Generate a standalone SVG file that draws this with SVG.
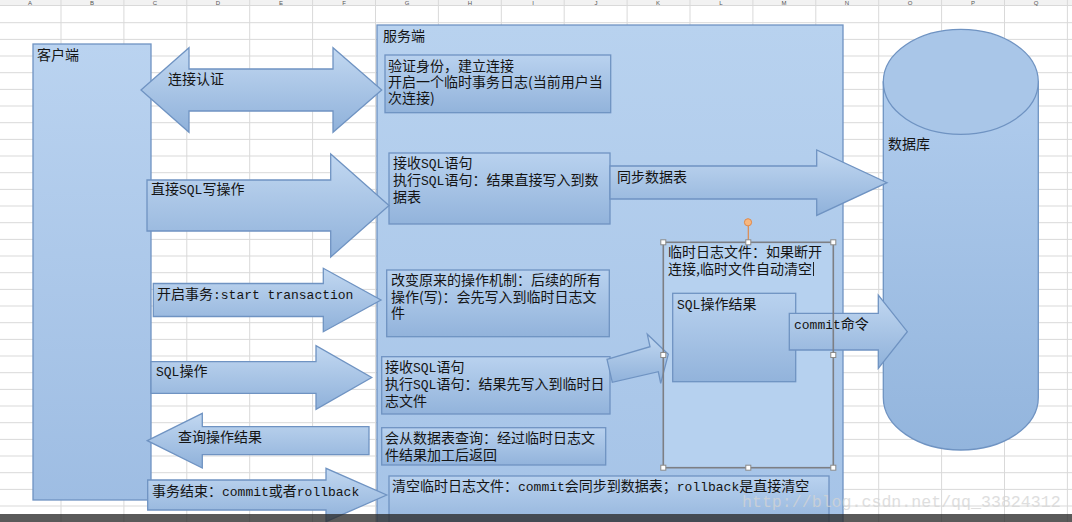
<svg xmlns="http://www.w3.org/2000/svg" width="1072" height="522" viewBox="0 0 1072 522">
<defs>
<linearGradient id="gArrow" x1="0" y1="0" x2="0" y2="1">
<stop offset="0" stop-color="#c2d8f1"/><stop offset="1" stop-color="#8fb1da"/>
</linearGradient>
<linearGradient id="gBox" x1="0" y1="0" x2="0" y2="1">
<stop offset="0" stop-color="#b9d2ef"/><stop offset="1" stop-color="#92b3db"/>
</linearGradient>
<linearGradient id="gClient" x1="0" y1="0" x2="0" y2="1">
<stop offset="0" stop-color="#bad3f0"/><stop offset="1" stop-color="#9ebde3"/>
</linearGradient>
<linearGradient id="gServer" x1="0" y1="0" x2="0" y2="1">
<stop offset="0" stop-color="#b8d2ef"/><stop offset="1" stop-color="#a5c3e7"/>
</linearGradient>
<linearGradient id="gCyl" x1="0" y1="0" x2="0" y2="1">
<stop offset="0" stop-color="#b0cced"/><stop offset="1" stop-color="#93b5dd"/>
</linearGradient>
<style>
.grid line{stroke:#d9d9d9;stroke-width:1}
.hdr{font-family:"Liberation Sans",sans-serif;font-size:6px;fill:#555;text-anchor:middle}
.shape{stroke:#6f93c2;stroke-width:1.3}
.arrow{fill:url(#gArrow);stroke:#6f93c2;stroke-width:1.3}
.box{fill:url(#gBox);stroke:#6f93c2;stroke-width:1.3}
.t{font-family:"Noto Sans CJK SC","Noto Sans",sans-serif;font-size:14px;fill:#141414}
.m{font-family:"Liberation Mono",monospace;font-size:13px}
.handle{fill:#ffffff;stroke:#8a8a8a;stroke-width:1}
</style>
</defs>
<rect width="1072" height="522" fill="#ffffff"/>
<g id="sheet-grid" class="grid">
<rect x="0" y="0" width="1072" height="5.5" fill="#f2f2f2"/>
<line x1="0" y1="5.5" x2="1072" y2="5.5"/>
<line x1="0" y1="22.7" x2="1072" y2="22.7"/><line x1="0" y1="39.4" x2="1072" y2="39.4"/><line x1="0" y1="56" x2="1072" y2="56"/><line x1="0" y1="72.7" x2="1072" y2="72.7"/><line x1="0" y1="89.4" x2="1072" y2="89.4"/><line x1="0" y1="106" x2="1072" y2="106"/><line x1="0" y1="122.7" x2="1072" y2="122.7"/><line x1="0" y1="139.4" x2="1072" y2="139.4"/><line x1="0" y1="156" x2="1072" y2="156"/><line x1="0" y1="172.7" x2="1072" y2="172.7"/><line x1="0" y1="189.4" x2="1072" y2="189.4"/><line x1="0" y1="206" x2="1072" y2="206"/><line x1="0" y1="222.7" x2="1072" y2="222.7"/><line x1="0" y1="239.4" x2="1072" y2="239.4"/><line x1="0" y1="256" x2="1072" y2="256"/><line x1="0" y1="272.7" x2="1072" y2="272.7"/><line x1="0" y1="289.4" x2="1072" y2="289.4"/><line x1="0" y1="306" x2="1072" y2="306"/><line x1="0" y1="322.7" x2="1072" y2="322.7"/><line x1="0" y1="339.4" x2="1072" y2="339.4"/><line x1="0" y1="356" x2="1072" y2="356"/><line x1="0" y1="372.7" x2="1072" y2="372.7"/><line x1="0" y1="389.4" x2="1072" y2="389.4"/><line x1="0" y1="406" x2="1072" y2="406"/><line x1="0" y1="422.7" x2="1072" y2="422.7"/><line x1="0" y1="439.4" x2="1072" y2="439.4"/><line x1="0" y1="456" x2="1072" y2="456"/><line x1="0" y1="472.7" x2="1072" y2="472.7"/><line x1="0" y1="489.4" x2="1072" y2="489.4"/><line x1="0" y1="506" x2="1072" y2="506"/>
<line x1="61" y1="0" x2="61" y2="522"/><line x1="123.9" y1="0" x2="123.9" y2="522"/><line x1="186.8" y1="0" x2="186.8" y2="522"/><line x1="249.7" y1="0" x2="249.7" y2="522"/><line x1="312.6" y1="0" x2="312.6" y2="522"/><line x1="375.5" y1="0" x2="375.5" y2="522"/><line x1="438.4" y1="0" x2="438.4" y2="522"/><line x1="501.3" y1="0" x2="501.3" y2="522"/><line x1="564.2" y1="0" x2="564.2" y2="522"/><line x1="627.1" y1="0" x2="627.1" y2="522"/><line x1="690" y1="0" x2="690" y2="522"/><line x1="752.9" y1="0" x2="752.9" y2="522"/><line x1="815.8" y1="0" x2="815.8" y2="522"/><line x1="878.7" y1="0" x2="878.7" y2="522"/><line x1="941.6" y1="0" x2="941.6" y2="522"/><line x1="1004.5" y1="0" x2="1004.5" y2="522"/><line x1="1067.4" y1="0" x2="1067.4" y2="522"/>
<text class="hdr" x="30" y="5">A</text><text class="hdr" x="92" y="5">B</text><text class="hdr" x="155" y="5">C</text><text class="hdr" x="218" y="5">D</text><text class="hdr" x="281" y="5">E</text><text class="hdr" x="344" y="5">F</text><text class="hdr" x="407" y="5">G</text><text class="hdr" x="470" y="5">H</text><text class="hdr" x="533" y="5">I</text><text class="hdr" x="596" y="5">J</text><text class="hdr" x="658" y="5">K</text><text class="hdr" x="721" y="5">L</text><text class="hdr" x="784" y="5">M</text><text class="hdr" x="847" y="5">N</text><text class="hdr" x="910" y="5">O</text><text class="hdr" x="973" y="5">P</text><text class="hdr" x="1036" y="5">Q</text>
</g>

<g id="client">
<rect class="shape" x="33" y="44" width="118" height="456" fill="url(#gClient)"/>
<text class="t" x="37" y="60">客户端</text>
</g>

<g id="server">
<rect class="shape" x="377" y="25" width="466" height="510" fill="url(#gServer)"/>
<text class="t" x="383" y="41">服务端</text>
</g>

<g id="database">
<path class="shape" fill="url(#gCyl)" d="M883.3,81.8 L883.3,397.5 A77.5,52.5 0 0 0 1038.3,397.5 L1038.3,81.8 Z"/>
<ellipse class="shape" cx="960.8" cy="81.8" rx="77.5" ry="52.5" fill="#a9c6e8"/>
<text class="t" x="888" y="149">数据库</text>
</g>

<g id="box-auth">
<rect class="box" x="385" y="55" width="225.7" height="57.7"/>
<text class="t" x="388" y="71">验证身份，建立连接</text>
<text class="t" x="388" y="87">开启一个临时事务日志(当前用户当</text>
<text class="t" x="388" y="103">次连接)</text>
</g>

<g id="box-direct">
<rect class="box" x="389" y="153" width="221" height="71"/>
<text class="t" x="393" y="168">接收<tspan class="m">SQL</tspan>语句</text>
<text class="t" x="393" y="185">执行<tspan class="m">SQL</tspan>语句：结果直接写入到数</text>
<text class="t" x="393" y="202">据表</text>
</g>

<g id="box-mechanism">
<rect class="box" x="386.7" y="270" width="222.6" height="66.7"/>
<text class="t" x="391" y="285">改变原来的操作机制：后续的所有</text>
<text class="t" x="391" y="302">操作(写)：会先写入到临时日志文</text>
<text class="t" x="391" y="318">件</text>
</g>

<g id="box-tx-sql">
<rect class="box" x="381.7" y="356.7" width="228.3" height="57.3"/>
<text class="t" x="385" y="372">接收<tspan class="m">SQL</tspan>语句</text>
<text class="t" x="385" y="389">执行<tspan class="m">SQL</tspan>语句：结果先写入到临时日</text>
<text class="t" x="385" y="406">志文件</text>
</g>

<g id="box-query">
<rect class="box" x="381.7" y="427.7" width="224" height="37.3"/>
<text class="t" x="385" y="443">会从数据表查询：经过临时日志文</text>
<text class="t" x="385" y="460">件结果加工后返回</text>
</g>

<g id="box-clear">
<rect class="box" x="389" y="476" width="440" height="50"/>
<text class="t" x="392" y="491">清空临时日志文件：<tspan class="m">commit</tspan>会同步到数据表；<tspan class="m">rollback</tspan>是直接清空</text>
</g>

<g id="temp-log">
<rect x="663.3" y="242.3" width="170" height="225.4" fill="#b6d1ef"/>
<text class="t" x="668" y="257">临时日志文件：如果断开</text>
<text class="t" x="668" y="274">连接,临时文件自动清空</text>
<line x1="813.5" y1="262" x2="813.5" y2="276" stroke="#222" stroke-width="1"/>
</g>

<g id="sql-result">
<rect class="box" x="672.7" y="293.3" width="123" height="88.4"/>
<text class="t" x="677" y="309"><tspan class="m">SQL</tspan>操作结果</text>
</g>

<g id="connectors">
<polygon class="arrow" points="141,90 189,47.7 189,69 333,69 333,47.7 381.7,90 333,132.3 333,111 189,111 189,132.3"/>
<text class="t" x="168" y="84">连接认证</text>
<polygon class="arrow" points="147,180 330.7,180 330.7,154 389,205.5 330.7,257 330.7,231 147,231"/>
<text class="t" x="151" y="194">直接<tspan class="m">SQL</tspan>写操作</text>
<polygon class="arrow" points="610,166 816.7,166 816.7,150 887,182.7 816.7,215.4 816.7,199 610,199"/>
<text class="t" x="617" y="182">同步数据表</text>
<polygon class="arrow" points="153.3,283.5 323.3,283.5 323.3,268.3 381,300 323.3,331.7 323.3,316.5 153.3,316.5"/>
<text class="t" x="157" y="299">开启事务<tspan class="m">:start transaction</tspan></text>
<polygon class="arrow" points="151,361.7 316,361.7 316,345.7 371.7,377.5 316,409.3 316,393.3 151,393.3"/>
<text class="t" x="156" y="376"><tspan class="m">SQL</tspan>操作</text>
<polygon class="arrow" points="147.3,440.7 202.3,413.3 202.3,426.7 369,426.7 369,454.7 202.3,454.7 202.3,468"/>
<text class="t" x="178" y="442">查询操作结果</text>
<polygon class="arrow" points="147.7,480 326,480 326,468.3 386.7,495 326,521.7 326,510 147.7,510"/>
<text class="t" x="152" y="496">事务结束：<tspan class="m">commit</tspan>或者<tspan class="m">rollback</tspan></text>
<polygon class="arrow" points="607,359.3 650,346.7 647.3,334.3 668.3,354.3 660.7,383.3 658.3,371.7 612.3,382.3"/>
<polygon class="arrow" points="789.3,313.3 878.3,313.3 878.3,295 907.3,331.7 878.3,368.3 878.3,350 789.3,350"/>
<text class="t" x="794" y="329"><tspan class="m">commit</tspan>命令</text>
</g>

<g id="temp-log-selection">
<rect x="663.3" y="242.3" width="170" height="225.4" fill="none" stroke="#7d7f84" stroke-width="1.6"/>
<line x1="748.3" y1="226" x2="748.3" y2="242.3" stroke="#e0894a" stroke-width="1.2"/>
<circle cx="748" cy="222.3" r="3.6" fill="#f7b77f" stroke="#e0894a" stroke-width="1"/>
<rect class="handle" x="660.8" y="239.8" width="5" height="5"/>
<rect class="handle" x="745.8" y="239.8" width="5" height="5"/>
<rect class="handle" x="830.8" y="239.8" width="5" height="5"/>
<rect class="handle" x="660.8" y="352.5" width="5" height="5"/>
<rect class="handle" x="830.8" y="352.5" width="5" height="5"/>
<rect class="handle" x="660.8" y="465.2" width="5" height="5"/>
<rect class="handle" x="745.8" y="465.2" width="5" height="5"/>
<rect class="handle" x="830.8" y="465.2" width="5" height="5"/>
</g>

<text x="742" y="507" font-family="Liberation Mono, monospace" font-size="16.6px" fill="#d4d4d4" opacity="0.75">http://blog.csdn.net/qq_33824312</text>
<rect x="0" y="514" width="1072" height="8" fill="#2b2b2b" opacity="0.78"/>
</svg>
